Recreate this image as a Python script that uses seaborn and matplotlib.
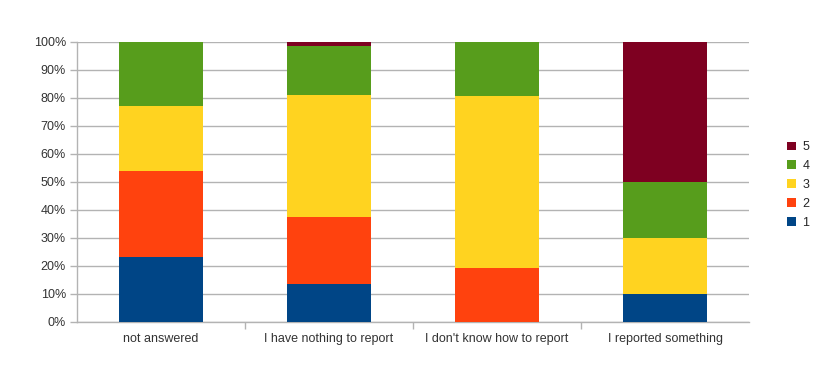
import matplotlib
matplotlib.use("Agg")
import matplotlib.pyplot as plt
import seaborn as sns
import numpy as np
from matplotlib.patches import Patch
from matplotlib.ticker import FixedLocator

categories = ["not answered", "I have nothing to report", "I don't know how to report", "I reported something"]
series_names = ["1", "2", "3", "4", "5"]
s1 = [23.1, 13.75, 0.0, 10.0]
s2 = [30.8, 23.75, 19.2, 0.0]
s3 = [23.1, 43.75, 61.5, 20.0]
s4 = [23.0, 17.5, 19.3, 20.0]
s5 = [0.0, 1.25, 0.0, 50.0]
colors = ["#004586", "#ff420e", "#ffd320", "#579d1c", "#7e0021"]
y_ticks = [0, 10, 20, 30, 40, 50, 60, 70, 80, 90, 100]

sns.set_theme(style="white")
plt.rcParams["font.family"] = ["Liberation Sans", "DejaVu Sans"]

fig = plt.figure(figsize=(8.16, 3.70), dpi=100)
ax = fig.add_axes([77 / 816, 1 - 322 / 370, (749 - 77) / 816, 280 / 370])

series = [s1, s2, s3, s4, s5]
bottom = np.zeros(len(categories))
for vals, c in zip(series, colors):
    sns.barplot(x=categories, y=vals, bottom=bottom, color=c, width=0.5,
                linewidth=0, ax=ax, zorder=3, saturation=1)
    bottom = bottom + np.array(vals)

ax.set_ylim(0, 100)
ax.set_xlim(-0.5, len(categories) - 0.5)
ax.set_yticks(y_ticks)
ax.set_yticklabels([f"{t}%" for t in y_ticks], fontsize=9, color="#333333")
ax.yaxis.grid(True, color="#b3b3b3", linewidth=1, zorder=0)
ax.set_axisbelow(True)

ax.set_xticks(range(len(categories)))
ax.set_xticklabels(categories, fontsize=9, color="#333333")
ax.tick_params(axis="x", which="major", length=0, pad=8)
ax.xaxis.set_minor_locator(FixedLocator([0.5, 1.5, 2.5]))
ax.tick_params(axis="x", which="minor", length=5, color="#b3b3b3", width=1, direction="out", bottom=True)
ax.tick_params(axis="y", length=5, color="#b3b3b3", width=1, direction="out", left=True, pad=3)

for side in ["top", "right"]:
    ax.spines[side].set_visible(False)
for side in ["left", "bottom"]:
    ax.spines[side].set_color("#b3b3b3")
    ax.spines[side].set_linewidth(1)

handles = [Patch(facecolor=colors[i], edgecolor="none", label=series_names[i]) for i in range(4, -1, -1)]
fig.legend(handles=handles, loc="center left", bbox_to_anchor=(781 / 816, 1 - 185 / 370),
           frameon=False, fontsize=9, handlelength=0.7, handleheight=0.7,
           handletextpad=0.5, labelspacing=0.55, borderpad=0)

fig.savefig("out.png", dpi=100)
